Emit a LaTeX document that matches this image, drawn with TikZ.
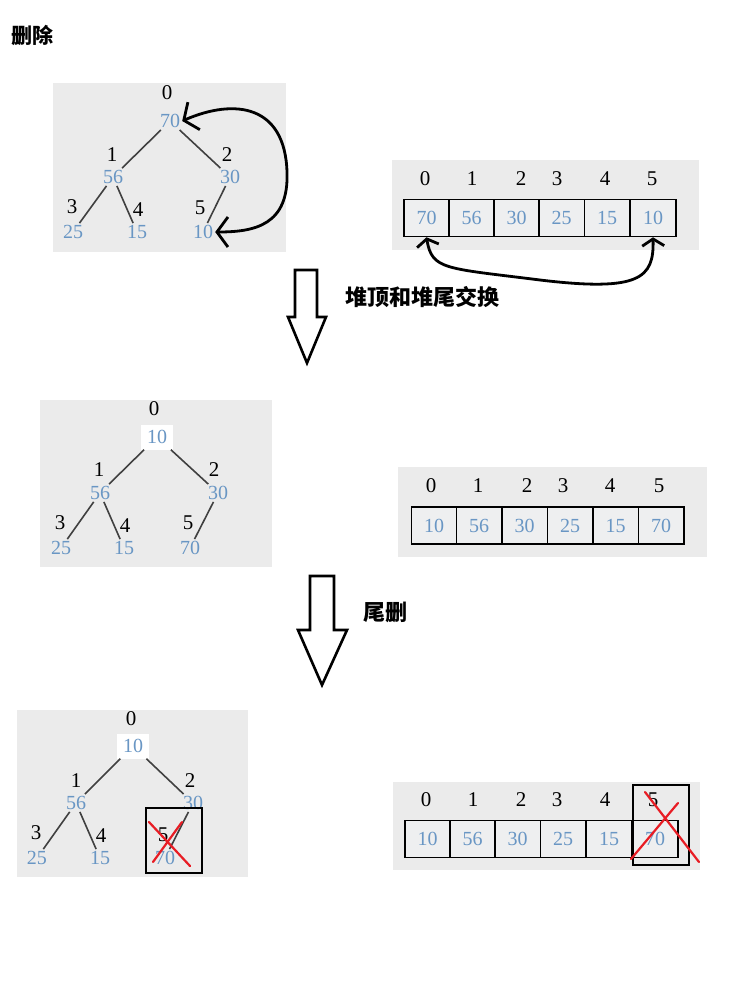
\documentclass[tikz,border=0pt]{standalone}
\usepackage{fontspec}
\setmainfont{Liberation Serif}
\newfontfamily\cjk{Noto Sans CJK SC}
\usetikzlibrary{arrows.meta}
\definecolor{panelgray}{RGB}{235,235,235}
\definecolor{cellgray}{RGB}{238,239,240}
\definecolor{valblue}{RGB}{105,150,196}
\definecolor{crossred}{RGB}{232,28,36}

\begin{document}
\begin{tikzpicture}[x=1pt,y=-1pt]
\tikzstyle{every node}+=[inner sep=0pt]
\tikzstyle{panel}=[fill=panelgray]
\tikzstyle{idx}=[font=\fontsize{21}{21}\selectfont]
\tikzstyle{val}=[font=\fontsize{20}{20}\selectfont,text=valblue,inner sep=2pt]
\tikzstyle{moved}=[val,fill=white,minimum width=32,minimum height=25]
\tikzstyle{edge}=[draw=black!75,line width=1.6pt]
\tikzstyle{cell}=[draw=black,line width=1.5pt,fill=cellgray,minimum width=45.5,minimum height=37,font=\fontsize{20}{20}\selectfont,text=valblue]
\tikzstyle{swap}=[line width=2.8pt,{Straight Barb[length=11pt,width=30pt]}-{Straight Barb[length=11pt,width=30pt]}]
\tikzstyle{bigarrow}=[draw=black,line width=2.6pt,fill=white,line join=miter]
\tikzstyle{note}=[font=\cjk\bfseries\fontsize{21}{21}\selectfont]
\tikzstyle{cross}=[draw=crossred,line width=2.2pt,line cap=round]
\tikzstyle{delbox}=[draw=black,line width=2.6pt]
\fill [white] (0,0) rectangle (753,1004);
\useasboundingbox (0,0) rectangle (753,1004);
% title
\node [note] (title) at (33,35) {删除};
% tree before swap
\fill [panel] (53,83) rectangle (286,252);
\node [idx] (ka0) at (167,93) {0};
\node [val] (va0) at (170,121) {70};
\node [idx] (ka1) at (112,155) {1};
\node [val] (va1) at (113,177) {56};
\node [idx] (ka2) at (227,155) {2};
\node [val] (va2) at (230,177) {30};
\node [idx] (ka3) at (72,207) {3};
\node [val] (va3) at (73,232) {25};
\node [idx] (ka4) at (138,210) {4};
\node [val] (va4) at (137,232) {15};
\node [idx] (ka5) at (200,208) {5};
\node [val] (va5) at (203,232) {10};
\draw [edge] (va0) -- (va1);
\draw [edge] (va0) -- (va2);
\draw [edge] (va1) -- (va3);
\draw [edge] (va1) -- (va4);
\draw [edge] (va2) -- (va5);
\draw [swap] (va0.east) .. controls (235,98) and (285,105) .. (287,172) .. controls (289,225) and (255,232) .. (va5.east);
% array before swap
\fill [panel] (392,160) rectangle (699,250);
\node [cell] (ca0) at (426.5,218) {70};
\node [cell] (ca1) at (471.5,218) {56};
\node [cell] (ca2) at (516.5,218) {30};
\node [cell] (ca3) at (561.5,218) {25};
\node [cell] (ca4) at (607,218) {15};
\node [cell] (ca5) at (653,218) {10};
\node [idx] (ja0) at (425,179) {0};
\node [idx] (ja1) at (472,179) {1};
\node [idx] (ja2) at (521,179) {2};
\node [idx] (ja3) at (557,179) {3};
\node [idx] (ja4) at (605,179) {4};
\node [idx] (ja5) at (652,179) {5};
\draw [swap,{Straight Barb[length=7pt,width=22pt]}-{Straight Barb[length=7pt,width=22pt]}] (ca0.south) .. controls (432,270) and (445,268) .. (540,280) .. controls (640,292) and (654,278) .. (ca5.south);
% first step
\draw [bigarrow] (295,270) -- (317,270) -- (317,317) -- (326,317) -- (307,363) -- (288,317) -- (295,317) -- cycle;
\node [note,font=\cjk\bfseries\fontsize{22}{22}\selectfont] (stepa) at (422,297) {堆顶和堆尾交换};
% tree after swap
\fill [panel] (40,400) rectangle (272,567);
\node [idx] (kb0) at (154,409) {0};
\node [moved] (vb0) at (157,437) {10};
\node [idx] (kb1) at (99,470) {1};
\node [val] (vb1) at (100,493) {56};
\node [idx] (kb2) at (214,470) {2};
\node [val] (vb2) at (218,493) {30};
\node [idx] (kb3) at (60,523) {3};
\node [val] (vb3) at (61,548) {25};
\node [idx] (kb4) at (125,526) {4};
\node [val] (vb4) at (124,548) {15};
\node [idx] (kb5) at (188,523) {5};
\node [val] (vb5) at (190,548) {70};
\draw [edge] (vb0) -- (vb1);
\draw [edge] (vb0) -- (vb2);
\draw [edge] (vb1) -- (vb3);
\draw [edge] (vb1) -- (vb4);
\draw [edge] (vb2) -- (vb5);
% array after swap
\fill [panel] (398,467) rectangle (707,557);
\node [cell] (cb0) at (434,525.5) {10};
\node [cell] (cb1) at (479,525.5) {56};
\node [cell] (cb2) at (524.5,525.5) {30};
\node [cell] (cb3) at (570,525.5) {25};
\node [cell] (cb4) at (615.5,525.5) {15};
\node [cell] (cb5) at (661,525.5) {70};
\node [idx] (jb0) at (431,486) {0};
\node [idx] (jb1) at (478,486) {1};
\node [idx] (jb2) at (527,486) {2};
\node [idx] (jb3) at (563,486) {3};
\node [idx] (jb4) at (610,486) {4};
\node [idx] (jb5) at (659,486) {5};
% second step
\draw [bigarrow] (310,576) -- (334,576) -- (334,630) -- (347,630) -- (322,685) -- (298,630) -- (310,630) -- cycle;
\node [note,font=\cjk\bfseries\fontsize{22}{22}\selectfont] (stepb) at (385,612) {尾删};
% tree after delete
\fill [panel] (17,710) rectangle (248,877);
\node [idx] (kc0) at (131,719) {0};
\node [moved] (vc0) at (133,746) {10};
\node [idx] (kc1) at (76,781) {1};
\node [val] (vc1) at (76,803) {56};
\node [idx] (kc2) at (190,781) {2};
\node [val] (vc2) at (193,803) {30};
\node [idx] (kc3) at (36,833) {3};
\node [val] (vc3) at (37,858) {25};
\node [idx] (kc4) at (101,836) {4};
\node [val] (vc4) at (100,858) {15};
\node [idx] (kc5) at (163,835) {5};
\node [val] (vc5) at (165,858) {70};
\draw [edge] (vc0) -- (vc1);
\draw [edge] (vc0) -- (vc2);
\draw [edge] (vc1) -- (vc3);
\draw [edge] (vc1) -- (vc4);
\draw [edge] (vc2) -- (vc5);
\draw [delbox] (146,808) rectangle (202,873);
\draw [cross] (149,822) -- (190,866);
\draw [cross] (182,822) -- (153,862);
% array after delete
\fill [panel] (393,782) rectangle (700,870);
\node [cell] (cc0) at (427.5,839) {10};
\node [cell] (cc1) at (472.5,839) {56};
\node [cell] (cc2) at (517.5,839) {30};
\node [cell] (cc3) at (563,839) {25};
\node [cell] (cc4) at (609,839) {15};
\node [cell] (cc5) at (655,839) {70};
\node [idx] (jc0) at (426,800) {0};
\node [idx] (jc1) at (473,800) {1};
\node [idx] (jc2) at (521,800) {2};
\node [idx] (jc3) at (557,800) {3};
\node [idx] (jc4) at (605,800) {4};
\node [idx] (jc5) at (653,800) {5};
\draw [delbox] (633,785) rectangle (689,865);
\draw [cross] (645,792) -- (699,862);
\draw [cross] (678,803) -- (631,859);
\end{tikzpicture}
\end{document}
